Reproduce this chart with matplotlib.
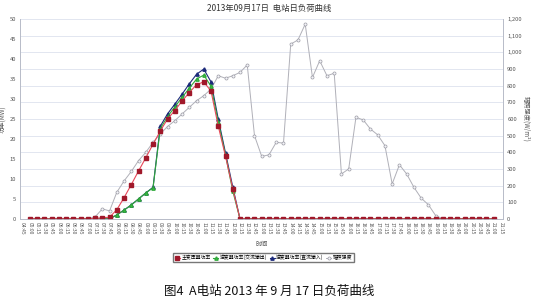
import numpy as np
import matplotlib.pyplot as plt
from matplotlib.ticker import FuncFormatter

plt.rcParams['font.family'] = ['Noto Sans CJK SC', 'DejaVu Sans']

# 15-minute time slots 04:45 .. 21:15
times = []
for m in range(4 * 60 + 45, 21 * 60 + 16, 15):
    times.append('%02d:%02d' % (m // 60, m % 60))

nan = np.nan
# main transformer power (MW)
p_trans = [nan, 0, 0, 0, 0, 0, 0, 0, 0, 0, 0.1, 0.3, 0.4, 2.3, 5.3, 8.6, 12.0, 15.3, 18.7,
           22.0, 25.0, 27.1, 29.5, 31.6, 33.6, 34.3, 32.0, 23.2, 15.7, 7.5] + [0] * 36 + [nan]
# inverter power, AC output (MW)
p_ac = [nan, 0, 0, 0, 0, 0, 0, 0, 0, 0, 0, 0, 0, 1.0, 2.2, 3.5, 5.0, 6.5, 7.8,
        22.6, 25.6, 28.0, 30.4, 32.7, 35.0, 36.0, 33.2, 24.2, 16.0, 7.0] + [0] * 36 + [nan]
# inverter power, DC input (MW)
p_dc = [nan, 0, 0, 0, 0, 0, 0, 0, 0, 0, 0, 0, 0, 1.0, 2.2, 3.5, 5.0, 6.5, 7.9,
        23.2, 26.3, 28.7, 31.2, 33.8, 36.2, 37.5, 34.3, 25.0, 16.5, 8.0] + [0] * 36 + [nan]
# irradiance (W/m2)
irr = [nan, 0, 0, 0, 0, 0, 0, 0, 0, 0, 12, 60, 48, 160, 228, 285, 350, 400, 460,
       510, 555, 590, 630, 670, 710, 740, 780, 860, 845, 860, 880, 925, 500, 375, 385,
       460, 455, 1050, 1075, 1170, 850, 950, 860, 875, 270, 300, 610, 595, 540, 505,
       440, 210, 325, 270, 190, 125, 85, 20, 0, 0, 0, 0, 0, 0, 0, 0, nan]

x = np.arange(len(times))

fig = plt.figure(figsize=(5.38, 3.04), dpi=100)
ax = fig.add_axes([0.038, 0.280, 0.897, 0.657])
ax2 = ax.twinx()
ax.set_zorder(ax2.get_zorder() + 1)
ax.patch.set_visible(False)
ax2.set_facecolor('#edf0f8')

ax2.plot(x, irr, color='#b0b0b8', lw=0.7, marker='o', ms=2.2, mfc='#f4f4f8',
         mec='#9a9aa4', mew=0.5)
ax.plot(x, p_dc, color='#1c2a7a', lw=0.8, marker='^', ms=2.4, mfc='#1c2a7a', mec='#1c2a7a')
ax.plot(x, p_ac, color='#2fa83a', lw=0.8, marker='^', ms=2.4, mfc='#4cd64c', mec='#2fa83a')
ax.plot(x, p_trans, color='#e8485a', lw=0.8, marker='s', ms=2.2, mfc='#a0182a', mec='#a0182a')

ax.set_xlim(-0.3, len(times) - 1 + 0.3)
ax.set_ylim(0, 50)
ax2.set_ylim(0, 1200)
ax.set_yticks(np.arange(0, 51, 5))
ax2.set_yticks(np.arange(0, 1201, 100))
ax2.yaxis.set_major_formatter(FuncFormatter(lambda v, p: '{:,.0f}'.format(v)))

ax.set_xticks(x)
ax.set_xticklabels(times, rotation=-90, fontsize=3.6, color='#555555')
ax.tick_params(axis='x', length=0, pad=2)
ax.tick_params(axis='y', labelsize=4.2, labelcolor='#555555', length=0, pad=3)
ax2.tick_params(axis='y', labelsize=4.2, labelcolor='#555555', length=0, pad=3)

ax2.grid(axis='y', color='#dde2ee', lw=0.6)
ax2.grid(axis='x', color='#e4e8f2', lw=0.4)
ax2.set_xticks(x)
for a in (ax, ax2):
    for s in a.spines.values():
        s.set_color('#b8bcc8')
        s.set_linewidth(0.6)
ax.spines['top'].set_visible(False)
ax2.spines['top'].set_visible(False)

ax.set_ylabel('功率(MW)', fontsize=4.5, color='#555555', labelpad=2)
ax2.set_ylabel('辐照强度(W/m²)', fontsize=4.5, color='#555555', rotation=-90, labelpad=6)
ax.set_xlabel('时间', fontsize=4.5, color='#555555', labelpad=4)

fig.text(0.50, 0.972, '2013年09月17日  电站日负荷曲线', ha='center', va='center',
         fontsize=6, color='#333333')

# legend row
handles = [ax.lines[2], ax.lines[1], ax.lines[0], ax2.lines[0]]
labels = ['主变压器功率', '逆变器功率(交流输出)', '逆变器功率(直流输入)', '辐照强度']
fig.legend(handles, labels, loc='center', bbox_to_anchor=(0.49, 0.153), ncol=4,
           fontsize=3.5, frameon=True, fancybox=False, edgecolor='#555555',
           handlelength=1.0, handletextpad=0.3, columnspacing=0.6, borderpad=0.4)

fig.text(0.50, 0.040, '图4  A电站 2013 年 9 月 17 日负荷曲线', ha='center', va='center',
         fontsize=9, color='#111111')

fig.savefig('out.png', dpi=100, facecolor='white')
